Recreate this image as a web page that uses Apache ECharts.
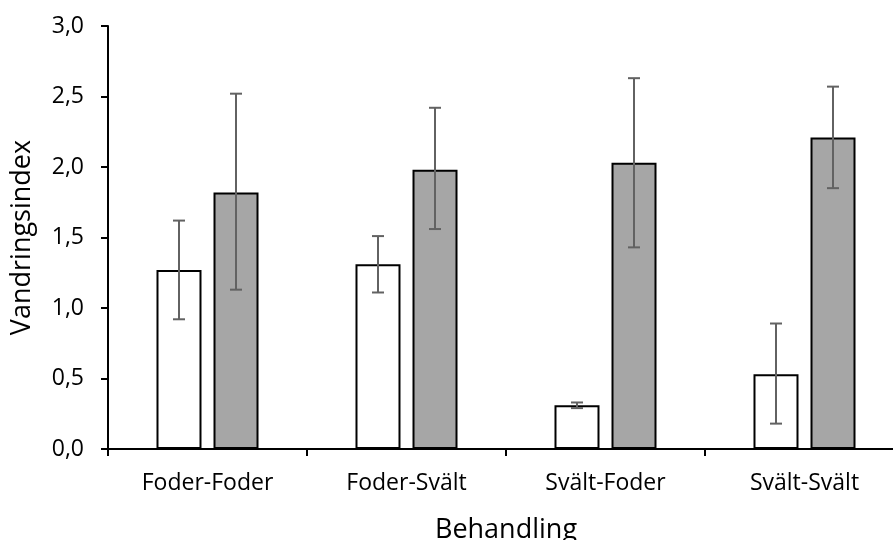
<!DOCTYPE html>
<html>
<head>
<meta charset="utf-8">
<script src="https://cdn.jsdelivr.net/npm/echarts@6/dist/echarts.min.js"></script>
<style>
  html, body { margin: 0; padding: 0; background: #ffffff; }
  #chart { width: 893px; height: 540px; }
</style>
</head>
<body>
<div id="chart"></div>
<script>
// behandlingar på x-axeln
const categories = ['Foder-Foder', 'Foder-Svält', 'Svält-Foder', 'Svält-Svält']
// vita staplar + felstaplar
const whiteValues = [1.27, 1.31, 0.31, 0.53]
const whiteLow = [0.92, 1.11, 0.29, 0.18]
const whiteHigh = [1.62, 1.51, 0.33, 0.89]
// grå staplar + felstaplar
const grayValues = [1.82, 1.98, 2.03, 2.21]
const grayLow = [1.13, 1.56, 1.43, 1.85]
const grayHigh = [2.52, 2.42, 2.63, 2.57]
// y-axelns skala
const yMin = 0
const yMax = 3
const yStep = 0.5

const FONT = '"Open Sans", "Noto Sans", sans-serif'
const BAR_W = 45
const BAR_GAP = 12
const OFFSET = (BAR_W + BAR_GAP) / 2

function errorSeries(low, high, dir) {
  return {
    type: 'custom',
    z: 10,
    silent: true,
    data: categories.map((c, i) => [i, low[i], high[i]]),
    renderItem: function (params, api) {
      const lo = api.coord([api.value(0), api.value(1)])
      const hi = api.coord([api.value(0), api.value(2)])
      const x = lo[0] + dir * OFFSET
      const cap = 6
      const style = { stroke: '#626262', lineWidth: 2 }
      return {
        type: 'group',
        children: [
          { type: 'line', shape: { x1: x, y1: hi[1], x2: x, y2: lo[1] }, style: style },
          { type: 'line', shape: { x1: x - cap, y1: hi[1], x2: x + cap, y2: hi[1] }, style: style },
          { type: 'line', shape: { x1: x - cap, y1: lo[1], x2: x + cap, y2: lo[1] }, style: style }
        ]
      }
    }
  }
}

const chart = echarts.init(document.getElementById('chart'))

const option = {
  backgroundColor: '#ffffff',
  animation: false,
  grid: {
    left: 108,
    right: -11,
    top: 26,
    bottom: 91,
    outerBoundsMode: 'none'
  },
  xAxis: {
    type: 'category',
    data: categories,
    boundaryGap: true,
    name: 'Behandling',
    nameLocation: 'middle',
    nameGap: 68,
    nameTextStyle: {
      fontFamily: FONT,
      fontSize: 27,
      color: '#000000'
    },
    axisLine: {
      lineStyle: { color: '#000000', width: 2 }
    },
    axisTick: {
      show: true,
      length: 7,
      lineStyle: { color: '#000000', width: 2 }
    },
    axisLabel: {
      fontFamily: FONT,
      fontSize: 23,
      color: '#000000',
      margin: 23
    },
    splitLine: { show: false }
  },
  yAxis: {
    type: 'value',
    min: yMin,
    max: yMax,
    interval: yStep,
    name: 'Vandringsindex',
    nameLocation: 'middle',
    nameGap: 72,
    nameRotate: 90,
    nameTextStyle: {
      fontFamily: FONT,
      fontSize: 27,
      color: '#000000'
    },
    axisLine: {
      show: true,
      lineStyle: { color: '#000000', width: 2 }
    },
    axisTick: {
      show: true,
      length: 7,
      lineStyle: { color: '#000000', width: 2 }
    },
    axisLabel: {
      fontFamily: FONT,
      fontSize: 23,
      color: '#000000',
      margin: 24,
      formatter: function (v) {
        return v.toFixed(1).replace('.', ',')
      }
    },
    splitLine: { show: false }
  },
  series: [
    {
      name: 'vit',
      type: 'bar',
      data: whiteValues,
      barWidth: BAR_W,
      barGap: (BAR_GAP / BAR_W * 100).toFixed(1) + '%',
      itemStyle: {
        color: '#ffffff',
        borderColor: '#000000',
        borderWidth: 2
      }
    },
    {
      name: 'grå',
      type: 'bar',
      data: grayValues,
      barWidth: BAR_W,
      itemStyle: {
        color: '#a6a6a6',
        borderColor: '#000000',
        borderWidth: 2
      }
    },
    errorSeries(whiteLow, whiteHigh, -1),
    errorSeries(grayLow, grayHigh, 1)
  ]
}

chart.setOption(option)
</script>
</body>
</html>
